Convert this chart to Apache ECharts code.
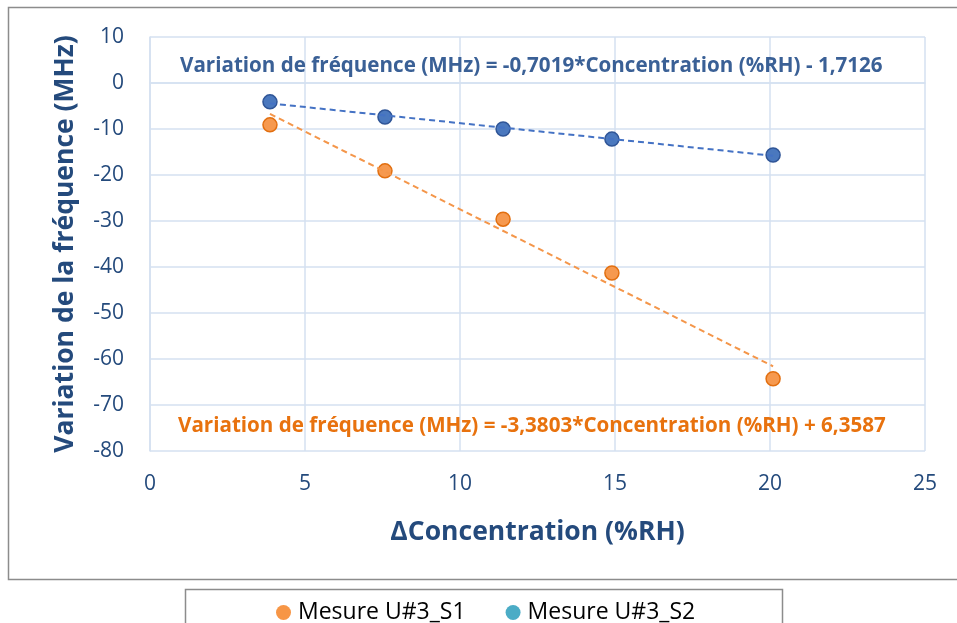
<!DOCTYPE html>
<html>
<head>
<meta charset="utf-8">
<script src="https://cdn.jsdelivr.net/npm/echarts@6/dist/echarts.min.js"></script>
<style>
  html, body { margin: 0; padding: 0; background: #fff; }
  #chart { width: 957px; height: 623px; }
</style>
</head>
<body>
<div id="chart"></div>
<script>
// Measured humidity steps (%RH) and frequency shifts (MHz)
const concentration = [3.87, 7.58, 11.39, 14.9, 20.1];
const shiftS1 = [-9.1, -19.1, -29.6, -41.3, -64.3];
const shiftS2 = [-4.1, -7.4, -10.0, -12.2, -15.65];

// Linear fits shown on the chart
const fitS1 = { slope: -3.3803, intercept: 6.3587 };
const fitS2 = { slope: -0.7019, intercept: -1.7126 };
const fitLabelS1 = 'Variation de fréquence (MHz) = -3,3803*Concentration (%RH) + 6,3587';
const fitLabelS2 = 'Variation de fréquence (MHz) = -0,7019*Concentration (%RH) - 1,7126';

const seriesNames = ['Mesure U#3_S1', 'Mesure U#3_S2'];
const xTitle = 'ΔConcentration (%RH)';
const yTitle = 'Variation de la fréquence (MHz)';

const FONT = '"Open Sans", Lato, sans-serif';
const AXIS_BLUE = '#244a7c';
const GRID = '#d5e1f1';

function pairs(xs, ys) { return xs.map((x, i) => [x, ys[i]]); }
function fitLine(fit) {
  const x0 = concentration[0], x1 = concentration[concentration.length - 1];
  return [[x0, fit.slope * x0 + fit.intercept], [x1, fit.slope * x1 + fit.intercept]];
}

const chart = echarts.init(document.getElementById('chart'), null, { renderer: 'canvas' });

chart.setOption({
  animation: false,
  backgroundColor: '#fff',
  grid: { left: 150, right: 32, top: 37, height: 414, containLabel: false },
  xAxis: {
    type: 'value', min: 0, max: 25, interval: 5,
    axisLine: { show: true, lineStyle: { color: GRID, width: 1.5 } },
    axisTick: { show: false },
    splitLine: { show: true, lineStyle: { color: GRID, width: 1.5 } },
    axisLabel: { color: AXIS_BLUE, fontSize: 21, fontFamily: FONT, margin: 23 },
    name: xTitle, nameLocation: 'middle', nameGap: 68,
    nameTextStyle: { color: AXIS_BLUE, fontSize: 26.5, fontWeight: 'bold', fontFamily: FONT }
  },
  yAxis: {
    type: 'value', min: -80, max: 10, interval: 10,
    axisLine: { show: true, lineStyle: { color: GRID, width: 1.5 } },
    axisTick: { show: false },
    splitLine: { show: true, lineStyle: { color: GRID, width: 1.5 } },
    axisLabel: { color: AXIS_BLUE, fontSize: 21, fontFamily: FONT, margin: 26 },
    name: yTitle, nameLocation: 'middle', nameGap: 71, nameRotate: 90,
    nameTextStyle: { color: AXIS_BLUE, fontSize: 26.5, fontWeight: 'bold', fontFamily: FONT }
  },
  legend: {
    data: [
      { name: seriesNames[0], icon: 'circle', itemStyle: { color: '#f79646', borderWidth: 0 } },
      { name: seriesNames[1], icon: 'circle', itemStyle: { color: '#4bacc6', borderWidth: 0 } }
    ],
    left: 271, top: 596,
    itemWidth: 15, itemHeight: 15, itemGap: 40,
    textStyle: { color: '#000', fontSize: 23, fontFamily: FONT, padding: [0, 0, 0, 2] }
  },
  graphic: [
    { type: 'rect', silent: true, z: -1,
      shape: { x: 8.5, y: 7.5, width: 980, height: 572 },
      style: { fill: null, stroke: '#8c8c8c', lineWidth: 1.5 } },
    { type: 'rect', silent: true, z: -1,
      shape: { x: 185.5, y: 589.5, width: 597, height: 60 },
      style: { fill: '#fff', stroke: '#8c8c8c', lineWidth: 1.5 } },
    { type: 'text', silent: true, z: 10, left: 180, top: 56,
      style: { text: fitLabelS2, fill: '#3a6096', font: 'bold 20.6px ' + FONT } },
    { type: 'text', silent: true, z: 10, left: 178, top: 416,
      style: { text: fitLabelS1, fill: '#e8720e', font: 'bold 20.6px ' + FONT } }
  ],
  series: [
    {
      name: seriesNames[0], type: 'scatter', data: pairs(concentration, shiftS1),
      symbol: 'circle', symbolSize: 14, z: 3,
      itemStyle: { color: '#f6994f', borderColor: '#e26f10', borderWidth: 1.5, opacity: 1 }
    },
    {
      name: seriesNames[1], type: 'scatter', data: pairs(concentration, shiftS2),
      symbol: 'circle', symbolSize: 14, z: 3,
      itemStyle: { color: '#4a78be', borderColor: '#2f5597', borderWidth: 1.5, opacity: 1 }
    },
    {
      name: 'fit S1', type: 'line', data: fitLine(fitS1), showSymbol: false, symbol: 'none', z: 4,
      lineStyle: { color: '#f4964a', width: 2, type: [6, 4] }, silent: true
    },
    {
      name: 'fit S2', type: 'line', data: fitLine(fitS2), showSymbol: false, symbol: 'none', z: 4,
      lineStyle: { color: '#4472c4', width: 2, type: [6, 4] }, silent: true
    }
  ]
});
</script>
</body>
</html>
